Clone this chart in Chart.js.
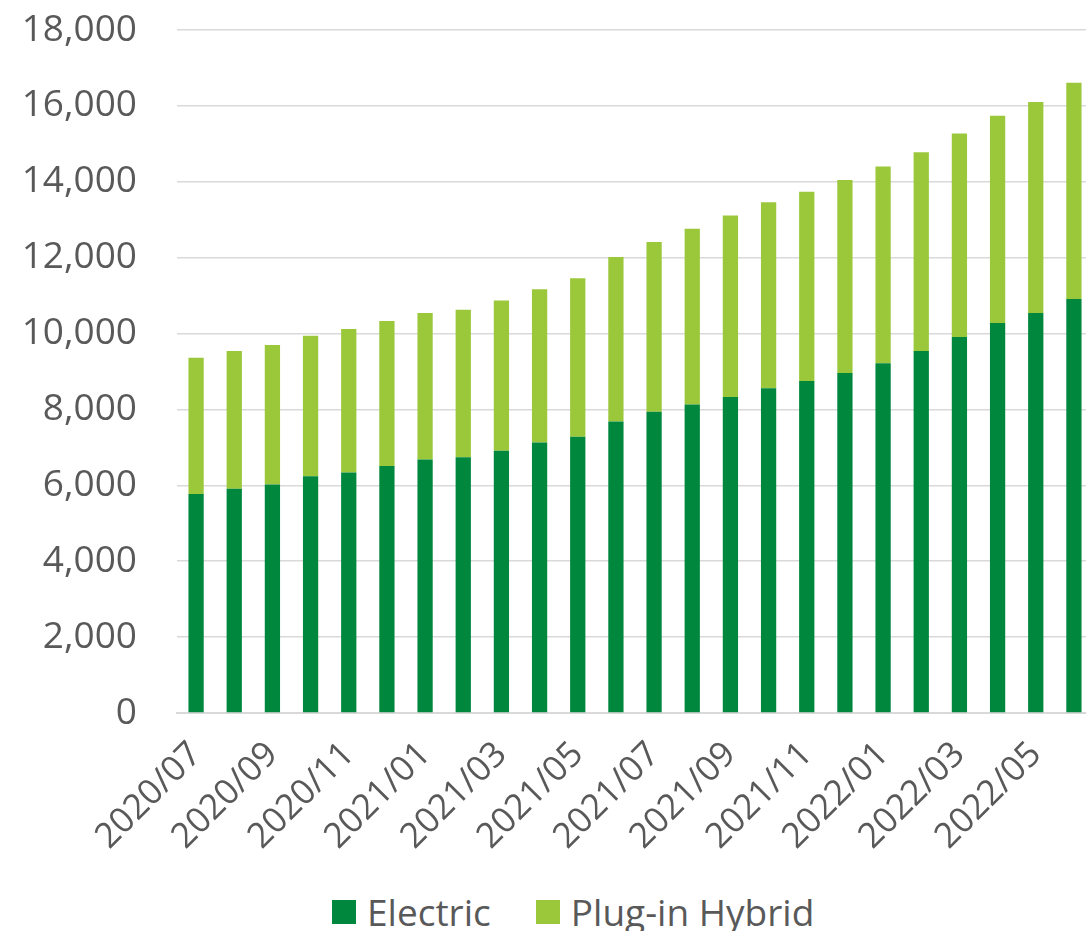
<!DOCTYPE html>
<html>
<head>
<meta charset="utf-8">
<script src="https://cdn.jsdelivr.net/npm/chart.js@4/dist/chart.umd.min.js"></script>
<style>
  html,body{margin:0;padding:0;background:#fff;overflow:hidden}
  #wrap{position:relative;width:1093px;height:931px}
  #box{position:absolute;left:0;top:0;width:1093px;height:879px}
  #legend{position:absolute;top:886px;left:332px;display:flex;align-items:center;
    font-family:"Open Sans",sans-serif;font-size:37px;color:#595959;white-space:nowrap}
  #legend .sw{display:inline-block;width:24px;height:24px;margin-right:11px}
  #legend .it{display:flex;align-items:center;margin-right:45px}
</style>
</head>
<body>
<div id="wrap">
  <div id="box"><canvas id="c"></canvas></div>
  <div id="legend"></div>
</div>
<script>
// month labels, one per bar
const months = ['2020/07','2020/08','2020/09','2020/10','2020/11','2020/12',
  '2021/01','2021/02','2021/03','2021/04','2021/05','2021/06',
  '2021/07','2021/08','2021/09','2021/10','2021/11','2021/12',
  '2022/01','2022/02','2022/03','2022/04','2022/05','2022/06'];

// values
const electric = [5770,5910,6020,6240,6340,6510,6680,6740,6910,7130,7280,7680,
  7940,8130,8330,8560,8750,8960,9220,9540,9910,10280,10540,10910];
const plugin = [3590,3630,3680,3700,3780,3820,3860,3890,3960,4040,4180,4340,
  4470,4630,4780,4900,4990,5090,5180,5240,5360,5460,5560,5700];

const yTicks = [0,2000,4000,6000,8000,10000,12000,14000,16000,18000];

const C_ELEC = '#00873E';
const C_PHEV = '#9BC83B';
const TXT = '#595959';
const FONT = '"Open Sans", sans-serif';

const series = [
  { label:'Electric', data:electric, color:C_ELEC },
  { label:'Plug-in Hybrid', data:plugin, color:C_PHEV }
];

new Chart(document.getElementById('c'), {
  type: 'bar',
  data: {
    labels: months,
    datasets: series.map(s => ({
      label: s.label, data: s.data, backgroundColor: s.color,
      borderWidth: 0, categoryPercentage: 1, barPercentage: 0.4
    }))
  },
  options: {
    responsive: true, maintainAspectRatio: false, animation: false,
    layout: { padding: 0 },
    plugins: { legend: { display: false }, tooltip: { enabled: false } },
    scales: {
      x: {
        stacked: true,
        grid: { display: false, drawTicks: false },
        border: { display: true, color: '#d9d9d9', width: 2 },
        afterFit: ax => { ax.paddingLeft = 0; ax.paddingRight = 0; ax.height = 166; },
        ticks: {
          autoSkip: false, minRotation: 45, maxRotation: 45, padding: 21,
          color: TXT, font: { family: FONT, size: 35 },
          callback: (v, i) => i % 2 === 0 ? months[i] : ''
        }
      },
      y: {
        stacked: true, min: 0, max: yTicks[yTicks.length-1],
        afterBuildTicks: ax => { ax.ticks = yTicks.map(v => ({ value: v })); },
        // keep the axis box where the reference has it
        afterFit: ax => { ax.width = 177; ax.paddingTop = 30; ax.paddingBottom = 0; },
        grid: { color: '#d9d9d9', lineWidth: 1.5, drawTicks: false },
        border: { display: false },
        ticks: {
          padding: 40, color: TXT, font: { family: FONT, size: 37 },
          callback: v => v.toLocaleString('en-US')
        }
      }
    }
  }
});

// legend
document.getElementById('legend').innerHTML = series.map(s =>
  `<span class="it"><span class="sw" style="background:${s.color}"></span>${s.label}</span>`).join('');
</script>
</body>
</html>
